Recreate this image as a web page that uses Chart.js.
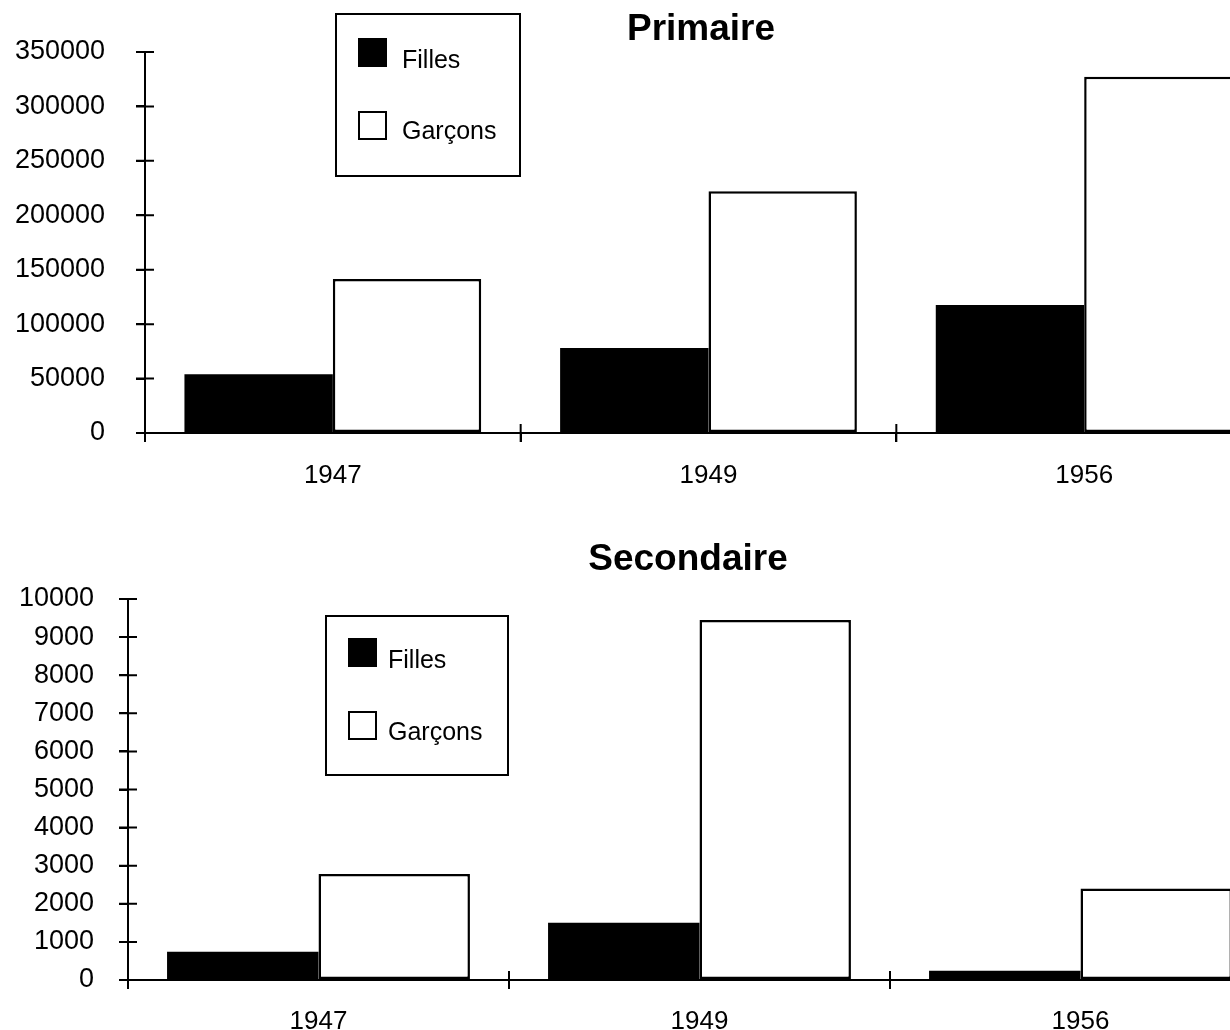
<!DOCTYPE html>
<html>
<head>
<meta charset="utf-8">
<script src="https://cdn.jsdelivr.net/npm/chart.js@4/dist/chart.umd.min.js"></script>
<style>
  body { margin: 0; width: 1230px; height: 1030px; overflow: hidden; position: relative; background: #fff;
         font-family: "Liberation Sans", Arial, sans-serif; color: #000; }
  .abs { position: absolute; }
  .title { font-weight: bold; font-size: 37px; line-height: 40px; width: 400px; text-align: center; }
  .legend { border: 2px solid #000; box-sizing: border-box; }
  .sw { width: 29px; height: 29px; box-sizing: border-box; border: 2px solid #000; }
  .lt { font-size: 25px; line-height: 30px; }
</style>
</head>
<body>
<div class="abs" style="left:0;top:0"><canvas id="primaire" width="1290" height="500"></canvas></div>
<div class="abs" style="left:0;top:520px"><canvas id="secondaire" width="1290" height="510"></canvas></div>

<div class="abs title" style="left:501px;top:8px">Primaire</div>
<div class="abs title" style="left:488px;top:538px">Secondaire</div>

<div class="abs legend" style="left:335px;top:13px;width:186px;height:164px"></div>
<div class="abs sw" style="left:358px;top:38px;background:#000"></div>
<div class="abs sw" style="left:358px;top:111px;background:#fff"></div>
<div class="abs lt" style="left:402px;top:44px">Filles</div>
<div class="abs lt" style="left:402px;top:115px">Garçons</div>

<div class="abs legend" style="left:325px;top:615px;width:184px;height:161px"></div>
<div class="abs sw" style="left:348px;top:638px;background:#000"></div>
<div class="abs sw" style="left:348px;top:711px;background:#fff"></div>
<div class="abs lt" style="left:388px;top:644px">Filles</div>
<div class="abs lt" style="left:388px;top:716px">Garçons</div>

<script>
const years = ['1947', '1949', '1956'];
const primaireFilles = [54000, 78000, 117500];
const primaireGarcons = [141500, 222000, 327300];
const secondaireFilles = [740, 1500, 244];
const secondaireGarcons = [2780, 9450, 2400];

Chart.defaults.color = '#000';
Chart.defaults.font.family = '"Liberation Sans", Arial, sans-serif';

// ticks that cross the axis line on both sides
const crossTicks = {
    id: 'crossTicks',
    afterDatasetsDraw(chart) {
        const ctx = chart.ctx;
        const x = chart.scales.x, y = chart.scales.y;
        ctx.save();
        ctx.strokeStyle = '#000';
        ctx.lineWidth = 2;
        ctx.beginPath();
        y.ticks.forEach((t, i) => {
            const py = y.getPixelForTick(i);
            ctx.moveTo(y.right - 9, py);
            ctx.lineTo(y.right + 9, py);
        });
        const step = x.width / x.ticks.length;
        for (let i = 0; i <= x.ticks.length; i++) {
            const px = x.left + i * step;
            ctx.moveTo(px, x.top - 9);
            ctx.lineTo(px, x.top + 9);
        }
        ctx.stroke();
        ctx.restore();
    }
};

function makeChart(id, filles, garcons, opts) {
    return new Chart(document.getElementById(id), {
        type: 'bar',
        data: {
            labels: years,
            datasets: [{
                label: 'Filles',
                data: filles,
                backgroundColor: '#000',
                borderWidth: 0
            }, {
                label: 'Garçons',
                data: garcons,
                backgroundColor: '#fff',
                borderColor: '#000',
                borderWidth: 2.5,
                borderSkipped: false
            }]
        },
        options: {
            responsive: false,
            animation: false,
            categoryPercentage: opts.catPct,
            barPercentage: 1,
            layout: { padding: { top: opts.top, right: opts.right, left: 0, bottom: 0 } },
            plugins: { legend: { display: false }, title: { display: false }, tooltip: { enabled: false } },
            scales: {
                x: {
                    afterFit: s => { s.height = opts.xh; },
                    grid: { display: true, drawOnChartArea: false, drawTicks: true, tickLength: 9, color: '#000', lineWidth: 2 },
                    border: { color: '#000', width: 2 },
                    ticks: { font: { size: 26 }, padding: opts.xpad, maxRotation: 0 }
                },
                y: {
                    min: 0,
                    max: opts.max,
                    afterFit: s => { s.width = opts.yw; },
                    grid: { display: true, drawOnChartArea: false, drawTicks: true, tickLength: 9, color: '#000', lineWidth: 2 },
                    border: { color: '#000', width: 2 },
                    ticks: { stepSize: opts.step, font: { size: 27 }, padding: opts.ypad, callback: v => String(v) }
                }
            }
        },
        plugins: [crossTicks]
    });
}

makeChart('primaire', primaireFilles, primaireGarcons,
    { catPct: 0.79, top: 52, right: 18, xh: 67, yw: 145, max: 350000, step: 50000, xpad: 18, ypad: 31 });
makeChart('secondaire', secondaireFilles, secondaireGarcons,
    { catPct: 0.795, top: 79, right: 19, xh: 50, yw: 128, max: 10000, step: 1000, xpad: 17, ypad: 25 });
</script>
</body>
</html>
